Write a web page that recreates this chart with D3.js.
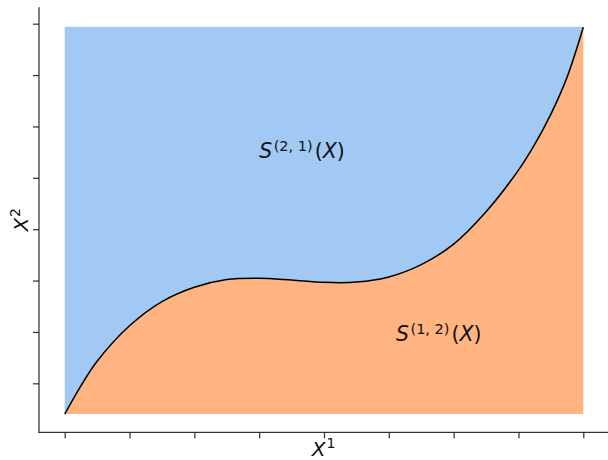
<!DOCTYPE html>
<html>
<head>
<meta charset="utf-8">
<script src="https://cdn.jsdelivr.net/npm/d3@7"></script>
<style>
  html, body { margin: 0; padding: 0; background: #fff; }
  svg { display: block; font-family: "DejaVu Sans", sans-serif; }
</style>
</head>
<body>
<svg id="chart" width="608" height="460"></svg>
<script>
// ---- data ----
const curveX = [0, 0.25, 0.5, 1, 1.5, 2, 2.5, 3, 3.5, 4, 4.5, 5, 5.5, 6, 6.5, 7, 7.25, 7.5, 7.75, 8];
const curveY = [-0.6, -0.05, 0.43, 1.12, 1.59, 1.87, 2.02, 2.045, 2.01, 1.965, 1.97, 2.07, 2.31, 2.71, 3.34, 4.15, 4.65, 5.24, 5.96, 6.93];
const regionTop = 6.94;
const regionBottom = -0.6;
const xTicks = [0, 1, 2, 3, 4, 5, 6, 7, 8];
const yTicks = [0, 1, 2, 3, 4, 5, 6, 7];
const regionNames = ["(2, 1)", "(1, 2)"];
const regionColors = ["#a1c9f4", "#ffb482"];

const pts = curveX.map((x, i) => ({ x, y: curveY[i] }));

const svg = d3.select("#chart");
const x = d3.scaleLinear().domain([0, 8]).range([64.7, 583.3]);
const y = d3.scaleLinear().domain([0, 7]).range([383.3, 23.7]);

const spineLeft = 39, spineBottom = 432.3, spineTop = 7.3, spineRight = 608;
const axisColor = "#333";

const curve = d3.curveCatmullRom.alpha(0.5);

// upper region (blue)
svg.append("path")
  .datum(pts)
  .attr("fill", regionColors[0])
  .attr("d", d3.area().curve(curve).x(d => x(d.x)).y0(y(regionTop)).y1(d => y(d.y)));

// lower region (orange)
svg.append("path")
  .datum(pts)
  .attr("fill", regionColors[1])
  .attr("d", d3.area().curve(curve).x(d => x(d.x)).y0(y(regionBottom)).y1(d => y(d.y)));

// boundary curve
svg.append("path")
  .datum(pts)
  .attr("fill", "none")
  .attr("stroke", "#000")
  .attr("stroke-width", 1.5)
  .attr("d", d3.line().curve(curve).x(d => x(d.x)).y(d => y(d.y)));

// axes (ticks only, no labels)
const gx = svg.append("g").attr("transform", `translate(0,${spineBottom})`)
  .call(d3.axisBottom(x).tickValues(xTicks).tickFormat("").tickSize(6).tickSizeOuter(0));
const gy = svg.append("g").attr("transform", `translate(${spineLeft},0)`)
  .call(d3.axisLeft(y).tickValues(yTicks).tickFormat("").tickSize(6).tickSizeOuter(0));
[gx, gy].forEach(g => {
  g.select(".domain").remove();
  g.selectAll(".tick line").attr("stroke", axisColor).attr("stroke-width", 1.25);
});

// spines
svg.append("line").attr("x1", spineLeft).attr("x2", spineLeft)
  .attr("y1", spineTop).attr("y2", spineBottom + 0.6)
  .attr("stroke", axisColor).attr("stroke-width", 1.25);
svg.append("line").attr("x1", spineLeft - 0.6).attr("x2", spineRight)
  .attr("y1", spineBottom).attr("y2", spineBottom)
  .attr("stroke", axisColor).attr("stroke-width", 1.25);

// region labels: S^{(a,b)}(X)
function mathLabel(xPos, yPos, sup) {
  const t = svg.append("text").attr("x", xPos).attr("y", yPos)
    .attr("font-size", 20.5).attr("fill", "#111");
  t.append("tspan").attr("font-style", "italic").text("S");
  t.append("tspan").attr("font-size", 14.5).attr("dy", -7).attr("dx", 1.5).text(sup);
  t.append("tspan").attr("dy", 7).attr("dx", 2).text("(");
  t.append("tspan").attr("font-style", "italic").text("X");
  t.append("tspan").text(")");
}
mathLabel(x(3.0), y(4.39), regionNames[0]);
mathLabel(x(5.11), y(0.83), regionNames[1]);

// axis labels
const xl = svg.append("text").attr("x", (spineLeft + spineRight) / 2).attr("y", 455.5)
  .attr("text-anchor", "middle").attr("font-size", 20).attr("fill", "#111");
xl.append("tspan").attr("font-style", "italic").text("X");
xl.append("tspan").attr("font-size", 14).attr("dy", -8).attr("dx", 1).text("1");

const yl = svg.append("text")
  .attr("transform", `translate(27.5,${(spineTop + spineBottom) / 2}) rotate(-90)`)
  .attr("text-anchor", "middle").attr("font-size", 20).attr("fill", "#111");
yl.append("tspan").attr("font-style", "italic").text("X");
yl.append("tspan").attr("font-size", 14).attr("dy", -8).attr("dx", 1).text("2");
</script>
</body>
</html>
